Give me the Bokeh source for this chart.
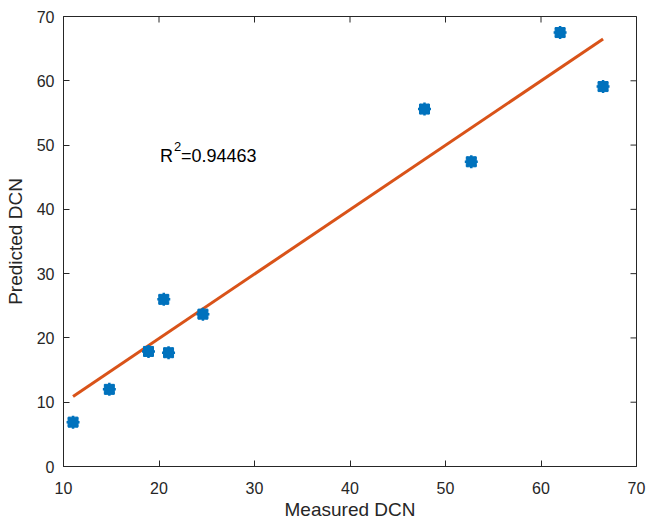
import math
from bokeh.plotting import figure
from bokeh.models import Range1d, FixedTicker
from bokeh.embed import file_html
from bokeh.resources import INLINE
from bokeh.core.properties import value

# Data
measured = [11.0, 14.8, 18.9, 21.0, 20.5, 24.6, 47.8, 52.7, 62.0, 66.5]
predicted = [6.9, 12.0, 17.9, 17.7, 26.0, 23.7, 55.6, 47.4, 67.5, 59.1]
fit_x = [11.0, 66.5]
fit_y = [10.9, 66.5]
x_ticks = [10, 20, 30, 40, 50, 60, 70]
y_ticks = [0, 10, 20, 30, 40, 50, 60, 70]
r2_text = "=0.94463"

FONT = "Liberation Sans"
AX = "#262626"

p = figure(width=648, height=522, output_backend="svg", toolbar_location=None,
           x_range=Range1d(x_ticks[0], x_ticks[-1]),
           y_range=Range1d(y_ticks[0], y_ticks[-1]),
           min_border_left=63, min_border_right=12, min_border_top=16,
           min_border_bottom=55)
p.grid.visible = False
p.outline_line_color = AX
p.outline_line_width = 1
p.background_fill_color = "white"
p.border_fill_color = "white"


def style(ax, ticks):
    ax.ticker = FixedTicker(ticks=ticks)
    ax.axis_line_color = AX
    ax.axis_line_width = 1
    ax.major_tick_line_color = AX
    ax.major_tick_in = 6
    ax.major_tick_out = 0
    ax.minor_tick_line_color = None
    ax.major_label_text_color = AX
    ax.major_label_text_font = FONT
    ax.major_label_text_font_size = "16px"
    ax.axis_label_text_font = FONT
    ax.axis_label_text_color = AX
    ax.axis_label_text_font_style = "normal"
    ax.axis_label_text_font_size = "19px"


style(p.xaxis[0], x_ticks)
style(p.yaxis[0], y_ticks)
p.xaxis[0].axis_label = "Measured DCN"
p.yaxis[0].axis_label = "Predicted DCN"
p.xaxis[0].major_label_standoff = 15
p.xaxis[0].axis_label_standoff = 2
p.yaxis[0].major_label_standoff = 9
p.yaxis[0].axis_label_standoff = 8

# inward ticks on the top and right edges of the box
p.scatter(x_ticks, [y_ticks[-1]] * len(x_ticks), marker="dash", angle=math.pi / 2,
          size=12, line_color=AX, line_width=1)
p.scatter([x_ticks[-1]] * len(y_ticks), y_ticks, marker="dash", size=12,
          line_color=AX, line_width=1)

p.line(fit_x, fit_y, line_color="#D95319", line_width=3)
p.scatter(measured, predicted, marker="square", size=10, fill_color="#0072BD",
          line_color="#0072BD")
p.scatter(measured, predicted, marker="asterisk", size=13, line_color="#0072BD",
          line_width=2.5)

TX, TY = 20.1, 48.25
p.text(x=[TX], y=[TY], text=["R"], text_font=value(FONT), text_font_size="18px",
       text_color="black", text_baseline="alphabetic", text_align="left")
p.text(x=[TX], y=[TY], text=["2"], text_font=value(FONT), text_font_size="13px",
       text_color="black", text_baseline="alphabetic", text_align="left",
       x_offset=14, y_offset=-9.5)
p.text(x=[TX], y=[TY], text=[r2_text], text_font=value(FONT),
       text_font_size="18px", text_color="black", text_baseline="alphabetic",
       text_align="left", x_offset=21)

open("out.html", "w").write(file_html(p, INLINE))
